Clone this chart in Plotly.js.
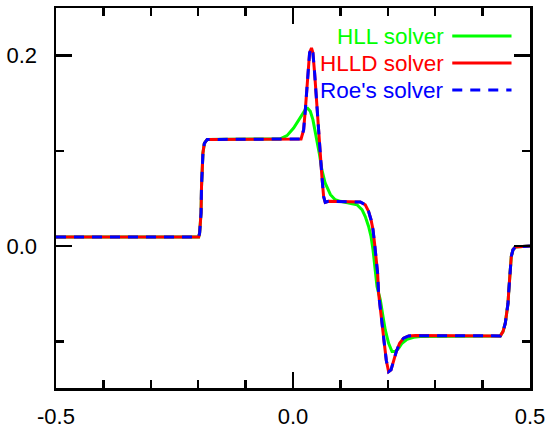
<!DOCTYPE html>
<html>
<head>
<meta charset="utf-8">
<script src="https://cdn.plot.ly/plotly-3.0.1.min.js"></script>
<style>
  html, body { margin: 0; padding: 0; background: #fff; }
  #chart { width: 547px; height: 429px; }
</style>
</head>
<body>
<div id="chart"></div>
<script>
// ---- data ----
const seriesNames = ["HLL solver", "HLLD solver", "Roe's solver"];

const hllX = [-0.5, -0.199, -0.197, -0.194, -0.193, -0.192, -0.190, -0.187, -0.181,
  -0.027, -0.0127, 0.0013, 0.0154, 0.026, 0.031, 0.0365, 0.042, 0.049, 0.056, 0.061,
  0.068, 0.079, 0.089, 0.10, 0.121, 0.135, 0.1456, 0.1525, 0.1595, 0.1646, 0.1688,
  0.172, 0.1757, 0.1772, 0.1806, 0.1842, 0.1899, 0.1947, 0.2017, 0.2089, 0.2158,
  0.2228, 0.23, 0.2405, 0.2544, 0.2686, 0.4373, 0.443, 0.4479, 0.4515, 0.4536,
  0.4549, 0.457, 0.4584, 0.4605, 0.4641, 0.469, 0.5];
const hllY = [0.0095, 0.0095, 0.0137, 0.0347, 0.0627, 0.0768, 0.0978, 0.108, 0.112,
  0.1125, 0.116, 0.124, 0.1356, 0.1433, 0.1447, 0.1415, 0.1328, 0.115, 0.096, 0.080,
  0.066, 0.054, 0.0487, 0.047, 0.0452, 0.0434, 0.0382, 0.0311, 0.0206, 0.0101, -0.0039,
  -0.0179, -0.032, -0.0425, -0.0494, -0.0565, -0.074, -0.088, -0.102, -0.1108, -0.1108,
  -0.1073, -0.102, -0.0978, -0.0957, -0.095, -0.0943, -0.0898, -0.081, -0.0705, -0.06,
  -0.0494, -0.0354, -0.0215, -0.0109, -0.0039, -0.001, 0];

const hlldX = [-0.5, -0.199, -0.197, -0.194, -0.193, -0.192, -0.190, -0.187, -0.181,
  0.017, 0.0224, 0.026, 0.0295, 0.0316, 0.035, 0.039, 0.042, 0.0456, 0.049, 0.0527,
  0.056, 0.061, 0.0646, 0.068, 0.075, 0.142, 0.1525, 0.1595, 0.1646, 0.1688, 0.172,
  0.175, 0.1785, 0.1806, 0.1842, 0.1878, 0.1926, 0.1968, 0.2017, 0.2068, 0.2122,
  0.2179, 0.2249, 0.2333, 0.2439, 0.258, 0.4373, 0.443, 0.4479, 0.4515, 0.4536,
  0.4549, 0.457, 0.4584, 0.4605, 0.4641, 0.469, 0.5];
const hlldY = [0.0095, 0.0095, 0.0137, 0.0347, 0.0627, 0.0768, 0.0978, 0.108, 0.112,
  0.1125, 0.122, 0.143, 0.164, 0.185, 0.203, 0.208, 0.203, 0.182, 0.157, 0.129,
  0.101, 0.073, 0.052, 0.046, 0.047, 0.0463, 0.0434, 0.0364, 0.0277, 0.0171, 0.0032,
  -0.0109, -0.0284, -0.0494, -0.0635, -0.081, -0.102, -0.1199, -0.1319, -0.130, -0.1196,
  -0.1108, -0.102, -0.0967, -0.0943, -0.094, -0.0943, -0.0898, -0.081, -0.0705, -0.06,
  -0.0494, -0.0354, -0.0215, -0.0109, -0.0039, -0.001, 0];

const roeX = [-0.5, -0.199, -0.197, -0.194, -0.193, -0.192, -0.190, -0.187, -0.181,
  0.017, 0.0224, 0.026, 0.0295, 0.0316, 0.035, 0.039, 0.042, 0.0456, 0.049, 0.0527,
  0.056, 0.061, 0.0646, 0.068, 0.075, 0.142, 0.1525, 0.1595, 0.1646, 0.1688, 0.172,
  0.175, 0.1785, 0.1806, 0.1842, 0.1878, 0.1926, 0.1968, 0.2017, 0.2068, 0.2122,
  0.2179, 0.2249, 0.2333, 0.2439, 0.258, 0.4373, 0.443, 0.4479, 0.4515, 0.4536,
  0.4549, 0.457, 0.4584, 0.4605, 0.4641, 0.469, 0.5];
const roeY = [0.0095, 0.0095, 0.0137, 0.0347, 0.0627, 0.0768, 0.0978, 0.108, 0.112,
  0.1125, 0.122, 0.143, 0.164, 0.185, 0.203, 0.208, 0.203, 0.182, 0.157, 0.129,
  0.101, 0.073, 0.052, 0.046, 0.047, 0.0463, 0.0434, 0.0364, 0.0277, 0.0171, 0.0032,
  -0.0109, -0.0284, -0.0494, -0.0635, -0.081, -0.102, -0.1199, -0.1319, -0.130, -0.1196,
  -0.1108, -0.102, -0.0967, -0.0943, -0.094, -0.0943, -0.0898, -0.081, -0.0705, -0.06,
  -0.0494, -0.0354, -0.0215, -0.0109, -0.0039, -0.001, 0];

const xTickVals = [-0.5, 0.0, 0.5];
const xTickText = ["-0.5", "0.0", "0.5"];
const yTickVals = [0.0, 0.2];
const yTickText = ["0.0", "0.2"];

// ---- styles ----
const colors = ["#00ff00", "#ff0000", "#0000ff"];
const dashes = ["solid", "solid", "10px,8px"];
const FONT = "Liberation Sans, Arial, Helvetica, sans-serif";

const traces = [
  {x: hllX, y: hllY},
  {x: hlldX, y: hlldY},
  {x: roeX, y: roeY}
].map((d, i) => ({
  x: d.x, y: d.y, type: "scatter", mode: "lines", name: seriesNames[i],
  line: {color: colors[i], width: 3, dash: dashes[i], shape: "linear"},
  showlegend: false, hoverinfo: "skip"
}));

// legend drawn at the top right: text on the left, line sample on the right
const legRowsY = [0.926, 0.855, 0.784];
const annotations = [];
const shapes = [];
seriesNames.forEach((n, i) => {
  annotations.push({
    xref: "paper", yref: "paper", x: 0.822, y: legRowsY[i],
    xanchor: "right", yanchor: "middle", text: n, showarrow: false,
    font: {family: FONT, size: 22.5, color: colors[i]}
  });
  shapes.push({
    type: "line", xref: "paper", yref: "paper",
    x0: 0.836, x1: 0.961, y0: legRowsY[i], y1: legRowsY[i],
    line: {color: colors[i], width: 3, dash: dashes[i]}
  });
});

const axisCommon = {
  showgrid: false, zeroline: false, showline: true, linecolor: "#000", linewidth: 2.5,
  mirror: "allticks", ticks: "inside", ticklen: 16, tickwidth: 2.5, tickcolor: "#000",
  tickfont: {family: FONT, size: 22, color: "#000"}
};

const layout = {
  width: 547, height: 429,
  margin: {l: 56, r: 17, t: 8, b: 41, pad: 0},
  paper_bgcolor: "#fff", plot_bgcolor: "#fff",
  showlegend: false,
  xaxis: Object.assign({}, axisCommon, {
    range: [-0.5, 0.5], tickmode: "array", tickvals: xTickVals, ticktext: xTickText,
    ticklabelstandoff: 7,
    minor: {dtick: 0.1, tick0: 0, ticks: "inside", ticklen: 8, tickwidth: 2.5, tickcolor: "#000", showgrid: false}
  }),
  yaxis: Object.assign({}, axisCommon, {
    range: [-0.149, 0.25], tickmode: "array", tickvals: yTickVals, ticktext: yTickText,
    ticklabelstandoff: 12,
    minor: {dtick: 0.1, tick0: 0, ticks: "inside", ticklen: 8, tickwidth: 2.5, tickcolor: "#000", showgrid: false}
  }),
  annotations: annotations,
  shapes: shapes
};

Plotly.newPlot("chart", traces, layout, {staticPlot: true, displayModeBar: false});
</script>
</body>
</html>
